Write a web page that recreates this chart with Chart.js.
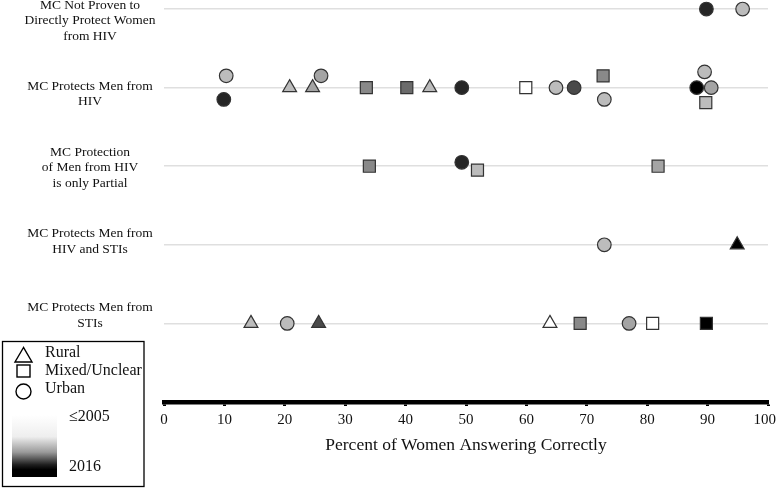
<!DOCTYPE html>
<html>
<head>
<meta charset="utf-8">
<script src="https://cdn.jsdelivr.net/npm/chart.js@4.4.1/dist/chart.umd.min.js"></script>
<style>
  html, body { margin: 0; padding: 0; background: #fff; }
  #wrap { width: 777px; height: 488px; position: relative; }
</style>
</head>
<body>
<div id="wrap"><canvas id="mcChart"></canvas></div>
<script>
// categories, top to bottom (row value = 5 - index)
var categories = [
  ["MC Not Proven to", "Directly Protect Women", "from HIV"],
  ["MC Protects Men from", "HIV"],
  ["MC Protection", "of Men from HIV", "is only Partial"],
  ["MC Protects Men from", "HIV and STIs"],
  ["MC Protects Men from", "STIs"]
];
var xTicks = [0, 10, 20, 30, 40, 50, 60, 70, 80, 90, 100];

// rural surveys (triangles)
var ruralPct   = [20.8, 24.6, 44.0, 94.9, 14.4, 25.6, 63.9];
var ruralRow   = [1, 1, 1, 3, 4, 4, 4];
var ruralNudge = [0, 0, 0, 0, 0, 0, 0];
var ruralYear  = [2010, 2011, 2010, 2016, 2010, 2014, 2005];

// mixed / unclear surveys (squares)
var mixedPct   = [33.5, 40.2, 59.9, 72.7, 89.7, 34.0, 51.9, 81.8, 68.9, 80.9, 89.8];
var mixedRow   = [1, 1, 1, 1, 1, 2, 2, 2, 4, 4, 4];
var mixedNudge = [0, 0, 0, 0.15, -0.19, 0, -0.05, 0, 0, 0, 0];
var mixedYear  = [2012, 2013, 2005, 2012, 2010, 2012, 2010, 2011, 2012, 2005, 2016];

// urban surveys (circles)
var urbanPct   = [89.8, 95.8, 10.3, 9.9, 26.0, 49.3, 64.9, 67.9, 72.9, 89.5, 88.2, 90.6, 49.3, 72.9, 20.4, 77.0];
var urbanRow   = [0, 0, 1, 1, 1, 1, 1, 1, 1, 1, 1, 1, 2, 3, 4, 4];
var urbanNudge = [0, 0, 0.15, -0.15, 0.15, 0, 0, 0, -0.15, 0.2, 0, 0, 0.05, 0, 0, 0];
var urbanYear  = [2015, 2010, 2010, 2015, 2011, 2015, 2010, 2014, 2010, 2010, 2016, 2011, 2015, 2010, 2010, 2011];

var serif = "'Liberation Serif', 'Times New Roman', serif";
var lastTick = xTicks[xTicks.length - 1];

// newer survey = darker fill
function shade(year) {
  var t = Math.max(0, Math.min(1, (year - 2005) / 11));
  var g = Math.round(255 * (1 - Math.pow(t, 1.7)));
  return 'rgb(' + g + ',' + g + ',' + g + ')';
}

function points(pct, row, nudge) {
  var out = [];
  for (var i in pct) {
    out.push({ x: pct[i], y: 5 - row[i] + nudge[i] });
  }
  return out;
}

var labelsAndLegend = {
  id: 'labelsAndLegend',
  afterDraw: function(chart) {
    var ctx = chart.ctx;
    var yScale = chart.scales.y;
    var xScale = chart.scales.x;
    ctx.save();

    // row labels
    ctx.fillStyle = '#111';
    ctx.font = '13.5px ' + serif;
    ctx.textAlign = 'center';
    ctx.textBaseline = 'middle';
    var lh = 15.5;
    categories.forEach(function(lines, i) {
      var py = yScale.getPixelForValue(5 - i);
      var cy = 12 + py * 0.938;
      var y0 = cy - (lines.length - 1) * lh / 2;
      lines.forEach(function(line, j) {
        ctx.fillText(line, 90, y0 + j * lh);
      });
    });

    // last x tick label, kept inside the canvas
    ctx.font = '15px ' + serif;
    ctx.textAlign = 'right';
    ctx.textBaseline = 'top';
    var lastText = String(lastTick);
    var w = ctx.measureText(lastText).width;
    var rx = Math.min(xScale.getPixelForValue(lastTick) + w / 2, chart.width - 1);
    ctx.fillText(lastText, rx, xScale.top + 11);

    // legend box
    ctx.textBaseline = 'middle';
    ctx.strokeStyle = '#000';
    ctx.lineWidth = 1.3;
    ctx.strokeRect(2.5, 341.5, 141.5, 145);

    ctx.lineWidth = 1.4;
    ctx.fillStyle = '#fff';
    ctx.beginPath();
    ctx.moveTo(23.5, 347.5);
    ctx.lineTo(15, 362);
    ctx.lineTo(32, 362);
    ctx.closePath();
    ctx.fill(); ctx.stroke();

    ctx.fillRect(17, 365, 13, 12);
    ctx.strokeRect(17, 365, 13, 12);

    ctx.beginPath();
    ctx.arc(23.5, 391.5, 7.5, 0, Math.PI * 2);
    ctx.fill(); ctx.stroke();

    ctx.fillStyle = '#111';
    ctx.font = '16px ' + serif;
    ctx.textAlign = 'left';
    ctx.fillText('Rural', 45, 353);
    ctx.fillText('Mixed/Unclear', 45, 371);
    ctx.fillText('Urban', 45, 389);

    var grad = ctx.createLinearGradient(0, 415, 0, 477);
    grad.addColorStop(0, '#ffffff');
    grad.addColorStop(0.35, '#eeeeee');
    grad.addColorStop(0.6, '#9a9a9a');
    grad.addColorStop(0.8, '#202020');
    grad.addColorStop(0.88, '#000000');
    grad.addColorStop(1, '#000000');
    ctx.fillStyle = grad;
    ctx.fillRect(12, 415, 45, 62);

    ctx.fillStyle = '#111';
    ctx.fillText('\u22642005', 69, 417);
    ctx.fillText('2016', 69, 467);
    ctx.restore();
  }
};

var ctx = document.getElementById('mcChart');

var chart = new Chart(ctx, {
  type: 'scatter',
  data: {
    datasets: [
      {
        label: 'Mixed/Unclear',
        data: points(mixedPct, mixedRow, mixedNudge),
        pointStyle: 'rect',
        pointRadius: 8.5,
        backgroundColor: mixedYear.map(shade),
        borderColor: '#333',
        borderWidth: 1.2,
        clip: false
      },
      {
        label: 'Urban',
        data: points(urbanPct, urbanRow, urbanNudge),
        pointStyle: 'circle',
        pointRadius: 6.8,
        backgroundColor: urbanYear.map(shade),
        borderColor: '#333',
        borderWidth: 1.2,
        clip: false
      },
      {
        label: 'Rural',
        data: points(ruralPct, ruralRow, ruralNudge),
        pointStyle: 'triangle',
        pointRadius: 8,
        backgroundColor: ruralYear.map(shade),
        borderColor: '#333',
        borderWidth: 1.2,
        clip: false
      }
    ]
  },
  options: {
    responsive: true,
    maintainAspectRatio: false,
    animation: false,
    layout: { autoPadding: false, padding: { left: 164, right: 9, top: 0, bottom: 32 } },
    plugins: {
      legend: { display: false },
      tooltip: { enabled: false }
    },
    scales: {
      x: {
        type: 'linear',
        min: 0,
        max: 100,
        afterBuildTicks: function(scale) {
          scale.ticks = xTicks.map(function(v) { return { value: v }; });
        },
        afterFit: function(scale) { scale.paddingRight = 0; },
        ticks: {
          font: { family: serif, size: 15 },
          color: '#111',
          padding: 5,
          maxRotation: 0,
          callback: function(v) { return v === lastTick ? '' : String(v); }
        },
        grid: {
          drawOnChartArea: false,
          drawTicks: true,
          tickLength: 4,
          tickWidth: 3,
          tickColor: '#000'
        },
        border: { color: '#000', width: 4.5 },
        title: {
          display: true,
          text: 'Percent of Women Answering Correctly',
          font: { family: serif, size: 17.5 },
          color: '#111',
          padding: { top: 1, bottom: 0 }
        }
      },
      y: {
        type: 'linear',
        min: 0,
        max: 5.115,
        afterBuildTicks: function(scale) {
          scale.ticks = [1, 2, 3, 4, 5].map(function(v) { return { value: v }; });
        },
        afterFit: function(scale) { scale.width = 0; },
        ticks: { display: false },
        grid: { color: '#dfdfdf', lineWidth: 1.5, drawTicks: false },
        border: { display: false }
      }
    }
  },
  plugins: [labelsAndLegend]
});
</script>
</body>
</html>
